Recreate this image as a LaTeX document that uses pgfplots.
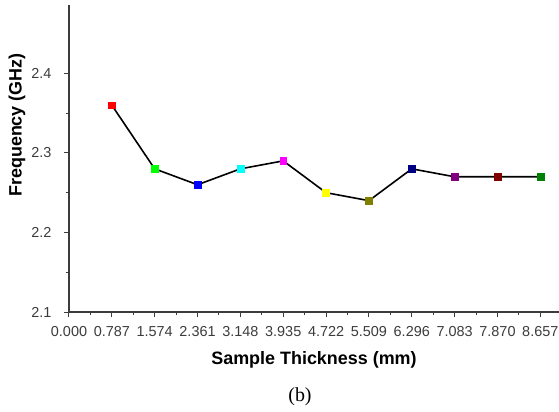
\documentclass[border=0pt]{standalone}
\usepackage{pgfplots}
\pgfplotsset{compat=1.18}
\usetikzlibrary{calc}
\usepackage{fontspec}
\setmainfont{Liberation Sans}
\newfontfamily\seriffont{Liberation Serif}
\definecolor{axisgray}{RGB}{60,60,60}
\definecolor{cA}{RGB}{255,0,0}
\definecolor{cB}{RGB}{0,255,0}
\definecolor{cC}{RGB}{0,0,255}
\definecolor{cD}{RGB}{0,255,255}
\definecolor{cE}{RGB}{255,0,255}
\definecolor{cF}{RGB}{255,255,0}
\definecolor{cG}{RGB}{128,128,0}
\definecolor{cH}{RGB}{0,0,128}
\definecolor{cI}{RGB}{128,0,128}
\definecolor{cJ}{RGB}{128,0,0}
\definecolor{cK}{RGB}{0,128,0}
\pgfplotsset{pt/.style={only marks, mark=square*, mark size=3.4bp, mark options={fill=#1, draw=#1}}}

\begin{document}
\begin{tikzpicture}[x=1bp,y=1bp]
  \begin{axis}[
    name=ax,
    scale only axis,
    width=490bp, height=307bp,
    xmin=0, xmax=9.0,
    ymin=2.1, ymax=2.486,
    axis x line*=bottom, axis y line*=left,
    axis line style={axisgray, line width=1.4bp},
    tick align=outside,
    major tick length=5bp, minor tick length=3bp,
    tick style={axisgray, line width=1bp},
    xtick={0,0.787,1.574,2.361,3.148,3.935,4.722,5.509,6.296,7.083,7.870,8.657},
    xticklabels={0.000,0.787,1.574,2.361,3.148,3.935,4.722,5.509,6.296,7.083,7.870,8.657},
    minor x tick num=1,
    ytick={2.1,2.2,2.3,2.4},
    yticklabels={2.1,2.2,2.3,2.4},
    minor y tick num=1,
    /pgf/number format/assume math mode=true,
    ticklabel style={font=\fontsize{14.5}{16}\selectfont, text=axisgray},
    xticklabel style={yshift=-6bp},
    yticklabel style={xshift=-9bp},
    xlabel={\textbf{Sample Thickness (mm)}},
    ylabel={\textbf{Frequency (GHz)}},
    label style={font=\fontsize{18}{20}\selectfont},
    xlabel style={at={(axis description cs:0.5,-0.156)}, anchor=center},
    ylabel style={at={(axis description cs:-0.106,0.609)}, anchor=center},
    clip=false,
  ]
  \addplot[black, line width=1.6bp, mark=none] coordinates {
    (0.787,2.36) (1.574,2.28) (2.361,2.26) (3.148,2.28) (3.935,2.29)
    (4.722,2.25) (5.509,2.24) (6.296,2.28) (7.083,2.27) (7.870,2.27) (8.657,2.27)
  };
  \addplot[pt=cA] coordinates {(0.787,2.36)};
  \addplot[pt=cB] coordinates {(1.574,2.28)};
  \addplot[pt=cC] coordinates {(2.361,2.26)};
  \addplot[pt=cD] coordinates {(3.148,2.28)};
  \addplot[pt=cE] coordinates {(3.935,2.29)};
  \addplot[pt=cF] coordinates {(4.722,2.25)};
  \addplot[pt=cG] coordinates {(5.509,2.24)};
  \addplot[pt=cH] coordinates {(6.296,2.28)};
  \addplot[pt=cI] coordinates {(7.083,2.27)};
  \addplot[pt=cJ] coordinates {(7.870,2.27)};
  \addplot[pt=cK] coordinates {(8.657,2.27)};
  \end{axis}
  \node[font=\seriffont\fontsize{20}{22}\selectfont] at ($(ax.south west)+(231bp,-85bp)$) {(b)};
  \pgfresetboundingbox
  \path ($(ax.south west)+(-69bp,-100bp)$) rectangle ($(ax.south west)+(490bp,307bp+5bp)$);
\end{tikzpicture}
\end{document}
